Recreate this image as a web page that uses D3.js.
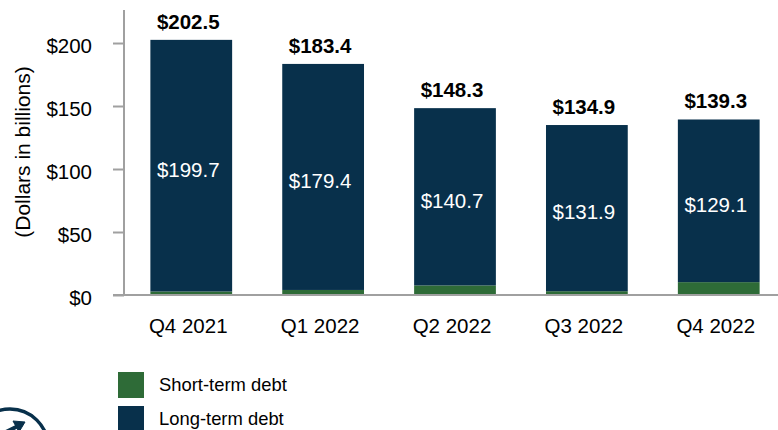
<!DOCTYPE html>
<html>
<head>
<meta charset="utf-8">
<script src="https://cdn.jsdelivr.net/npm/d3@7"></script>
<style>
  body { margin: 0; background: #fff; }
  svg { display: block; font-family: "Liberation Sans", Arial, sans-serif; }
</style>
</head>
<body>
<svg width="778" height="430"></svg>
<script>
// chart values
const quarters  = ["Q4 2021", "Q1 2022", "Q2 2022", "Q3 2022", "Q4 2022"];
const totalDebt = [202.5, 183.4, 148.3, 134.9, 139.3];
const longTerm  = [199.7, 179.4, 140.7, 131.9, 129.1];
const shortTerm = [2.8, 4.0, 7.6, 3.0, 10.2];
const yTicks    = [0, 50, 100, 150, 200];
const seriesNames = ["Short-term debt", "Long-term debt"];

const navy  = "#08304b";
const green = "#2e6b37";
const grey  = "#a0a0a0";

const svg = d3.select("svg");

const x = d3.scaleBand()
    .domain(quarters)
    .range([124, 786])
    .paddingInner(0.38)
    .paddingOuter(0.2);

const y = d3.scaleLinear()
    .domain([0, 226.2])
    .range([295, 10]);

const fmt = v => "$" + v.toFixed(1);

// bars: short-term at bottom, long-term stacked on top
const rows = quarters.map((q, i) => ({q: q, st: shortTerm[i], lt: longTerm[i], tot: totalDebt[i]}));

const g = svg.append("g");

g.selectAll("rect.st")
    .data(rows)
    .enter()
    .append("rect")
    .attr("class", "st")
    .attr("x", d => x(d.q))
    .attr("width", x.bandwidth())
    .attr("y", d => y(d.st))
    .attr("height", d => y(0) - y(d.st))
    .attr("fill", green);

g.selectAll("rect.lt")
    .data(rows)
    .enter()
    .append("rect")
    .attr("class", "lt")
    .attr("x", d => x(d.q))
    .attr("width", x.bandwidth())
    .attr("y", d => y(d.st + d.lt))
    .attr("height", d => y(d.st) - y(d.st + d.lt))
    .attr("fill", navy);

// long-term labels inside bars
g.selectAll("text.lt")
    .data(rows)
    .enter()
    .append("text")
    .attr("x", d => x(d.q) + x.bandwidth()/2 - 3)
    .attr("y", d => (y(d.st) + y(d.st + d.lt))/2 + 11)
    .attr("text-anchor", "middle")
    .attr("font-size", "20.5px")
    .attr("fill", "#fff")
    .text(d => fmt(d.lt));

// totals on top
g.selectAll("text.tot")
    .data(rows)
    .enter()
    .append("text")
    .attr("x", d => x(d.q) + x.bandwidth()/2 - 3)
    .attr("y", d => y(d.tot) - 11)
    .attr("text-anchor", "middle")
    .attr("font-size", "20.5px")
    .attr("font-weight", "bold")
    .attr("fill", "#000")
    .text(d => fmt(d.tot));

// y axis
const yAxis = svg.append("g")
    .attr("transform", "translate(124,0)")
    .call(d3.axisLeft(y).tickValues(yTicks).tickSize(11).tickPadding(21).tickFormat(d => "$" + d));
yAxis.select(".domain").remove();
yAxis.selectAll(".tick line").attr("stroke", grey).attr("stroke-width", 2);
yAxis.selectAll(".tick text")
    .attr("font-size", "20.5px")
    .attr("font-family", "Liberation Sans, Arial, sans-serif")
    .attr("fill", "#000")
    .attr("dy", "0.45em");

svg.append("line")
    .attr("x1", 124).attr("x2", 124)
    .attr("y1", 10).attr("y2", y(0))
    .attr("stroke", grey).attr("stroke-width", 2);

// x axis
const xAxis = svg.append("g")
    .attr("transform", `translate(0,${y(0)})`)
    .call(d3.axisBottom(x).tickSize(0).tickPadding(23));
xAxis.select(".domain").remove();
xAxis.selectAll(".tick text")
    .attr("font-size", "20.5px")
    .attr("font-family", "Liberation Sans, Arial, sans-serif")
    .attr("fill", "#000")
    .attr("dx", -3);

svg.append("line")
    .attr("x1", 113).attr("x2", 778)
    .attr("y1", y(0)).attr("y2", y(0))
    .attr("stroke", grey).attr("stroke-width", 2);

// axis title
svg.append("text")
    .attr("transform", `translate(30,${152}) rotate(-90)`)
    .attr("text-anchor", "middle")
    .attr("font-size", "21px")
    .attr("fill", "#000")
    .text("(Dollars in billions)");

// legend
const legend = svg.append("g")
    .selectAll("g")
    .data(seriesNames)
    .enter()
    .append("g")
    .attr("transform", (d, i) => `translate(118,${372 + i*34})`);

legend.append("rect")
    .attr("width", 26)
    .attr("height", 26)
    .attr("fill", (d, i) => i === 0 ? green : navy);

legend.append("text")
    .attr("x", 41)
    .attr("y", 13)
    .attr("dy", "0.35em")
    .attr("font-size", "18.4px")
    .attr("fill", "#000")
    .text(d => d);

// partial logo bottom-left
const logo = svg.append("g").attr("fill", "none").attr("stroke", navy).attr("stroke-width", 3.5);
logo.append("circle").attr("cx", 10).attr("cy", 447).attr("r", 38);
logo.append("path").attr("d", "M-2,436 L22,424").attr("stroke-width", 4);
logo.append("path").attr("d", "M13,421 L25,422 L19,432 Z").attr("fill", navy).attr("stroke-width", 1);
</script>
</body>
</html>
